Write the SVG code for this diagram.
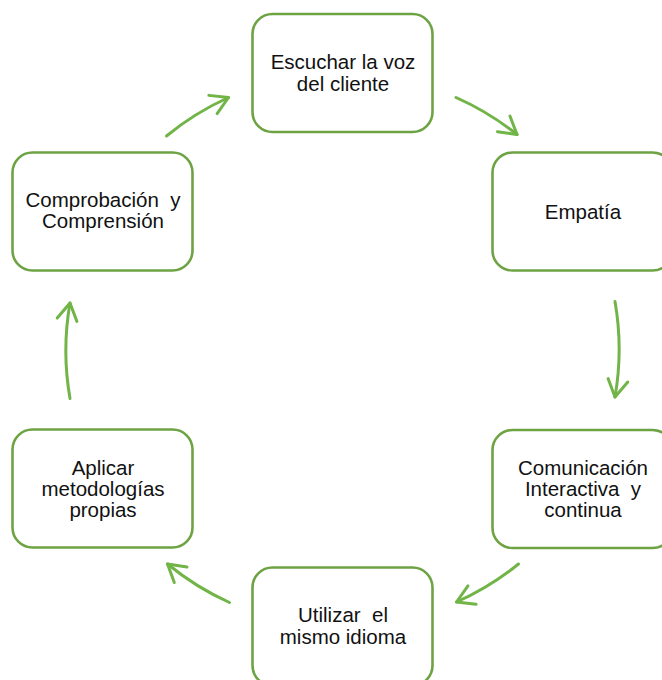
<svg xmlns="http://www.w3.org/2000/svg" width="662" height="680" viewBox="0 0 662 680">
  <style>
    .box { fill: #ffffff; stroke: #6ea344; stroke-width: 2.6; }
    .lbl { font-family: "Liberation Sans", Arial, sans-serif; font-size: 20.5px; fill: #111111; text-anchor: middle; }
    .flow { fill: none; stroke: #71b447; stroke-width: 3; stroke-linecap: round; marker-end: url(#chev); }
  </style>
  <defs>
    <marker id="chev" markerUnits="userSpaceOnUse" markerWidth="40" markerHeight="40" refX="0" refY="0" viewBox="-20 -20 40 40" orient="auto" overflow="visible">
      <path d="M-17,-10 L0,0 L-17,10" fill="none" stroke="#71b447" stroke-width="3" stroke-linecap="round" stroke-linejoin="round"/>
    </marker>
  </defs>
  <rect width="662" height="680" fill="#ffffff"/>

  <!-- circular flow arrows, all on one circle around (343,350) -->
  <g id="connectors">
    <path class="flow" d="M456,97.5 A277,277 0 0 1 517,134.5"/>
    <path class="flow" d="M615,301.5 A277,277 0 0 1 615,397"/>
    <path class="flow" d="M518.5,564 A277,277 0 0 1 456.5,602"/>
    <path class="flow" d="M229.5,602.5 A277,277 0 0 1 167.5,564"/>
    <path class="flow" d="M70,398.5 A277,277 0 0 1 70,303"/>
    <path class="flow" d="M166.5,136 A277,277 0 0 1 228.5,97.5"/>
  </g>

  <g id="escuchar">
    <rect class="box" x="252.5" y="14" width="180" height="118" rx="20"/>
    <text class="lbl" x="343" y="68.5">Escuchar la voz</text>
    <text class="lbl" x="343" y="90.5">del cliente</text>
  </g>

  <g id="empatia">
    <rect class="box" x="492.5" y="152.5" width="180" height="118" rx="20"/>
    <text class="lbl" x="583" y="218.5">Empatía</text>
  </g>

  <g id="comunicacion">
    <rect class="box" x="492.5" y="430" width="180" height="118" rx="20"/>
    <text class="lbl" x="583" y="474.5">Comunicación</text>
    <text class="lbl" x="583" y="496" xml:space="preserve">Interactiva  y</text>
    <text class="lbl" x="583" y="517">continua</text>
  </g>

  <g id="utilizar">
    <rect class="box" x="252.5" y="567.5" width="180" height="118" rx="20"/>
    <text class="lbl" x="343" y="621.5" xml:space="preserve">Utilizar  el</text>
    <text class="lbl" x="343" y="643.5">mismo idioma</text>
  </g>

  <g id="aplicar">
    <rect class="box" x="12.5" y="429.5" width="180" height="118" rx="20"/>
    <text class="lbl" x="103" y="474.5">Aplicar</text>
    <text class="lbl" x="103" y="495.5">metodologías</text>
    <text class="lbl" x="103" y="516.5">propias</text>
  </g>

  <g id="comprobacion">
    <rect class="box" x="12.5" y="152.5" width="180" height="118" rx="20"/>
    <text class="lbl" x="103" y="206.5" xml:space="preserve">Comprobación  y</text>
    <text class="lbl" x="103" y="227.5">Comprensión</text>
  </g>
</svg>
